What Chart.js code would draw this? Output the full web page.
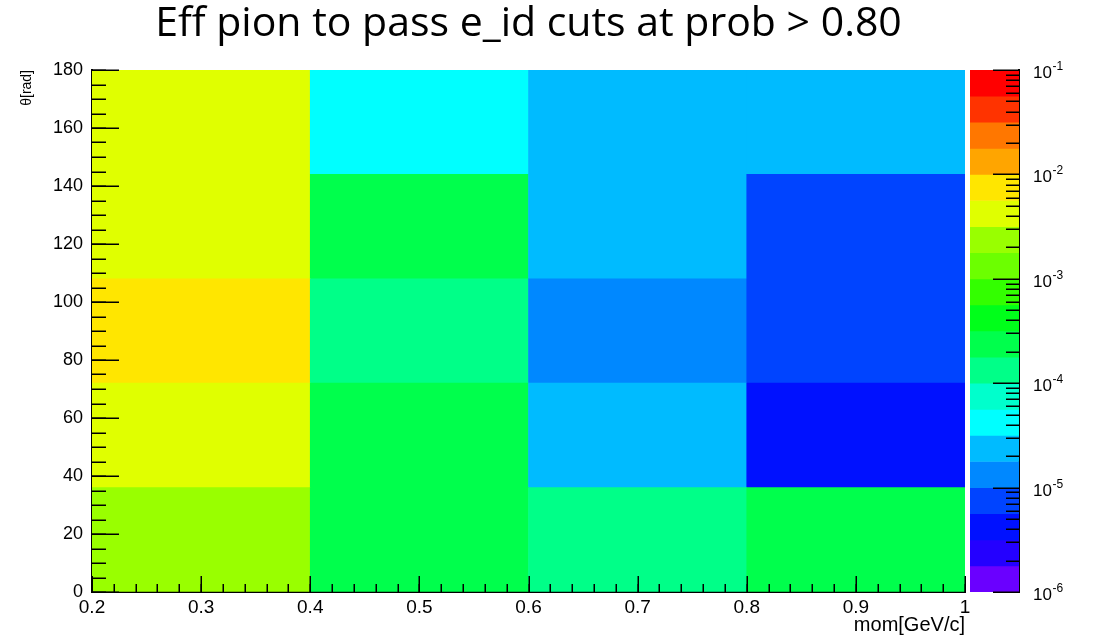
<!DOCTYPE html>
<html>
<head>
<meta charset="utf-8">
<title>Eff pion</title>
<script src="https://cdn.jsdelivr.net/npm/chart.js@4.4.1/dist/chart.umd.min.js"></script>
<style>
    html, body { margin: 0; padding: 0; background: #fff; }
    #wrap { position: relative; width: 1094px; height: 638px; }
    #heat { position: absolute; left: 0; top: 0; }
    #zbar { position: absolute; left: 965px; top: 0; }
</style>
</head>
<body>
<div id="wrap">
    <canvas id="heat" width="1094" height="638"></canvas>
    <canvas id="zbar" width="129" height="638"></canvas>
</div>
<script>
// momentum bins [GeV/c] (x) and theta bin edges [rad] (y)
let mom_bins = ["0.2-0.4", "0.4-0.6", "0.6-0.8", "0.8-1.0"];
let theta_edges = [0, 36, 72, 108, 144, 180];

// efficiency per theta bin, one value per mom bin
let eff_theta_0_36 = [2.4e-3, 2.5e-4, 1.4e-4, 2.5e-4];
let eff_theta_36_72 = [4.2e-3, 2.5e-4, 2.2e-5, 4.2e-6];
let eff_theta_72_108 = [7.5e-3, 1.4e-4, 1.3e-5, 7.5e-6];
let eff_theta_108_144 = [4.2e-3, 2.5e-4, 2.2e-5, 7.5e-6];
let eff_theta_144_180 = [4.2e-3, 4.0e-5, 2.2e-5, 2.2e-5];
let eff_rows = [eff_theta_0_36, eff_theta_36_72, eff_theta_72_108, eff_theta_108_144, eff_theta_144_180];

// tick labels
let x_ticks = [0.2, 0.3, 0.4, 0.5, 0.6, 0.7, 0.8, 0.9, 1.0];
let y_ticks = [0, 20, 40, 60, 80, 100, 120, 140, 160, 180];
let z_ticks = [1e-6, 1e-5, 1e-4, 1e-3, 1e-2, 1e-1];

// colour palette (top = z_max), 20 contours over the log z range
let z_min = 1e-6;
let z_max = 1e-1;
let palette = [
    "#ff0000", "#ff3300", "#ff7700", "#ffa500", "#ffe600",
    "#e0ff00", "#99ff00", "#6cff00", "#33ff00", "#00ff1a",
    "#00ff4c", "#00ff88", "#00ffcc", "#00ffff", "#00bbff",
    "#0088ff", "#0044ff", "#0011ff", "#2400ff", "#6a00ff",
];

let band = (Math.log10(z_max) - Math.log10(z_min)) / palette.length;

function zColor(v) {
    let i = Math.floor((Math.log10(z_max) - Math.log10(v)) / band);
    i = Math.max(0, Math.min(palette.length - 1, i));
    return palette[i];
}

let labelFamily = "'Liberation Sans', Arial, sans-serif";

// ROOT style tick marks, drawn on top of the cells
function tickMarks(marks) {
    return {
        id: "tickMarks",
        afterDraw: function (chart) {
            let ctx = chart.ctx;
            ctx.save();
            ctx.strokeStyle = "#000";
            ctx.lineWidth = 1.5;
            marks.forEach(function (m) {
                let scale = chart.scales[m.axis];
                m.values.forEach(function (v) {
                    let p = Math.round(scale.getPixelForValue(v)) + 0.25;
                    ctx.beginPath();
                    if (m.side === "bottom") {
                        ctx.moveTo(p, scale.top);
                        ctx.lineTo(p, scale.top - m.len);
                    } else if (m.side === "left") {
                        ctx.moveTo(scale.right, p);
                        ctx.lineTo(scale.right + m.len, p);
                    } else {
                        ctx.moveTo(scale.left, p);
                        ctx.lineTo(scale.left - m.len, p);
                    }
                    ctx.stroke();
                });
            });
            ctx.restore();
        },
    };
}

// 10^n labels of the colour axis, with a raised exponent
let powerLabels = {
    id: "powerLabels",
    afterDraw: function (chart) {
        let ctx = chart.ctx;
        let scale = chart.scales.y;
        ctx.save();
        ctx.fillStyle = "#000";
        ctx.textBaseline = "alphabetic";
        ctx.textAlign = "left";
        z_ticks.forEach(function (v) {
            let y = scale.getPixelForValue(v);
            let x = scale.left + 14;
            ctx.font = "17px " + labelFamily;
            ctx.fillText("10", x, y + 8);
            let w = ctx.measureText("10").width;
            ctx.font = "12px " + labelFamily;
            ctx.fillText(String(Math.round(Math.log10(v))), x + w + 0.5, y);
        });
        ctx.restore();
    },
};

let x_minor = [];
for (let i = 10; i <= 50; i++) x_minor.push(i / 50);
let y_minor = [];
for (let i = 0; i <= 36; i++) y_minor.push(i * 5);
let z_minor = [];
for (let e = -6; e <= -2; e++) {
    for (let m = 2; m <= 9; m++) z_minor.push(m * Math.pow(10, e));
}

let heat_chart = new Chart(document.getElementById("heat"), {
    type: "bar",
    data: {
        labels: mom_bins,
        datasets: eff_rows.map(function (row, r) {
            return {
                label: theta_edges[r] + "-" + theta_edges[r + 1],
                data: row.map(function () { return [theta_edges[r], theta_edges[r + 1]]; }),
                backgroundColor: row.map(zColor),
                borderWidth: 0,
                xAxisID: "xb",
                yAxisID: "y",
                grouped: false,
                barPercentage: 1,
                categoryPercentage: 1,
            };
        }),
    },
    options: {
        responsive: false,
        animation: false,
        layout: { padding: { top: 0, right: 129, bottom: 0, left: 0 } },
        plugins: {
            legend: { display: false },
            tooltip: { enabled: false },
            title: {
                display: true,
                fullSize: false,
                text: "Eff pion to pass e_id cuts at prob > 0.80",
                color: "#000",
                font: { family: "'Open Sans', Lato, sans-serif", size: 41, weight: "normal", lineHeight: 1.2 },
                padding: { top: 0, bottom: 20.8 },
            },
        },
        scales: {
            xb: { type: "category", display: false, offset: true },
            x: {
                type: "linear",
                position: "bottom",
                offset: false,
                min: 0.2,
                max: 1,
                afterBuildTicks: function (scale) {
                    scale.ticks = x_ticks.map(function (v) { return { value: v }; });
                },
                afterFit: function (scale) { scale.height = 46; },
                ticks: {
                    color: "#000",
                    font: { family: labelFamily, size: 19 },
                    padding: 4,
                    maxRotation: 0,
                    autoSkip: false,
                    callback: function (v) { return String(+v.toFixed(1)); },
                },
                grid: { drawOnChartArea: false, drawTicks: false, offset: false },
                border: { color: "#000", width: 2 },
                title: {
                    display: true,
                    text: "mom[GeV/c]",
                    align: "end",
                    color: "#000",
                    font: { family: labelFamily, size: 20 },
                    padding: { top: 0, bottom: 1 },
                },
            },
            y: {
                type: "linear",
                min: 0,
                max: 180,
                afterBuildTicks: function (scale) {
                    scale.ticks = y_ticks.map(function (v) { return { value: v }; });
                },
                afterFit: function (scale) { scale.width = 92; },
                ticks: { color: "#000", font: { family: labelFamily, size: 18 }, padding: 9, autoSkip: false },
                grid: { drawOnChartArea: false, drawTicks: false },
                border: { color: "#000", width: 2 },
                title: {
                    display: true,
                    text: "\u03b8[rad]",
                    align: "end",
                    color: "#000",
                    font: { family: labelFamily, size: 14 },
                    padding: { top: 19, bottom: 0 },
                },
            },
        },
    },
    plugins: [tickMarks([
        { axis: "x", side: "bottom", values: x_ticks, len: 16 },
        { axis: "x", side: "bottom", values: x_minor, len: 8 },
        { axis: "y", side: "left", values: y_ticks, len: 27 },
        { axis: "y", side: "left", values: y_minor, len: 14 },
    ])],
});

let zbar_chart = new Chart(document.getElementById("zbar"), {
    type: "bar",
    data: {
        labels: ["z"],
        datasets: palette.map(function (c, i) {
            let hi = Math.pow(10, Math.log10(z_max) - i * band);
            let lo = Math.pow(10, Math.log10(z_max) - (i + 1) * band);
            return {
                data: [[lo, hi]],
                backgroundColor: c,
                borderWidth: 0,
                grouped: false,
                barPercentage: 1,
                categoryPercentage: 1,
            };
        }),
    },
    options: {
        responsive: false,
        animation: false,
        layout: { padding: { top: 70, right: 0, bottom: 46, left: 5 } },
        plugins: { legend: { display: false }, tooltip: { enabled: false } },
        scales: {
            x: { display: false },
            y: {
                type: "logarithmic",
                position: "right",
                min: z_min,
                max: z_max,
                afterBuildTicks: function (scale) {
                    scale.ticks = z_ticks.map(function (v) { return { value: v }; });
                },
                afterFit: function (scale) { scale.width = 75; },
                ticks: { display: false },
                grid: { drawOnChartArea: false, drawTicks: false },
                border: { color: "#000", width: 2 },
            },
        },
    },
    plugins: [tickMarks([
        { axis: "y", side: "right", values: z_ticks, len: 26 },
        { axis: "y", side: "right", values: z_minor, len: 13 },
    ]), powerLabels],
});
</script>
</body>
</html>
